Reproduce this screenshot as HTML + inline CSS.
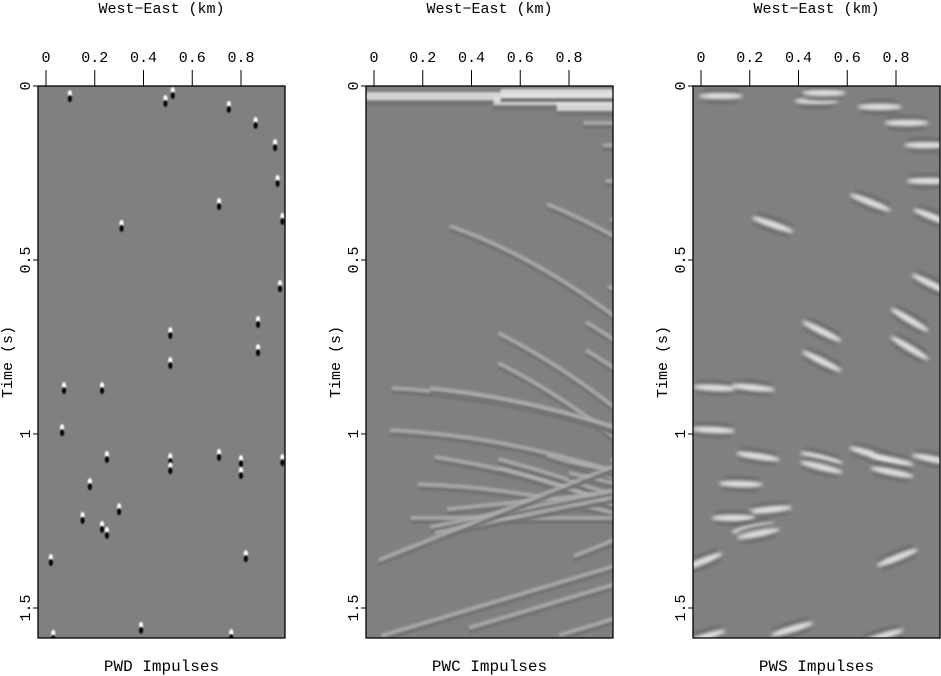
<!DOCTYPE html>
<html><head><meta charset="utf-8"><style>
html,body{margin:0;padding:0;background:#fff;}
svg{display:block;font-family:"Liberation Mono",monospace;}
</style></head><body>
<svg id="fig" width="941" height="676" viewBox="0 0 941 676" xmlns="http://www.w3.org/2000/svg">
<defs>
<filter id="blur1" x="-50%" y="-50%" width="200%" height="200%"><feGaussianBlur stdDeviation="1.8"/></filter>
<filter id="blur2" x="-50%" y="-50%" width="200%" height="200%"><feGaussianBlur stdDeviation="0.7"/></filter>
<filter id="blur3" filterUnits="userSpaceOnUse" x="0" y="0" width="941" height="676"><feGaussianBlur stdDeviation="1"/></filter>
</defs>
</svg>
<script>
// event data: x (km), t (s), local slope (time px per x px)
const evX=[0.098,0.49,0.52,0.75,0.86,0.94,0.95,0.71,0.97,0.31,0.96,0.87,0.51,0.87,0.51,0.074,0.23,0.066,0.25,0.51,0.71,0.80,0.97,0.51,0.80,0.18,0.30,0.15,0.23,0.25,0.02,0.82,0.39,0.76,0.03];
const evT=[0.029,0.043,0.020,0.060,0.106,0.170,0.273,0.339,0.382,0.402,0.575,0.678,0.710,0.759,0.796,0.868,0.868,0.989,1.066,1.072,1.060,1.078,1.075,1.098,1.112,1.144,1.216,1.241,1.267,1.284,1.362,1.351,1.557,1.578,1.580];
const evSlope=[0,0,0,0,0,0,0,0.4,0.4,0.35,0.5,0.6,0.5,0.6,0.5,0.05,0.1,0.05,0.15,0.25,0.3,0.2,0.2,0.25,0.2,0.03,-0.1,0,-0.2,-0.2,-0.4,-0.4,-0.3,-0.3,-0.3];
const xTicks=[0,0.2,0.4,0.6,0.8];
const xTickLabels=["0","0.2","0.4","0.6","0.8"];
const yTicks=[0,0.5,1,1.5];
const yTickLabels=["0","0.5","1","1.5"];
const panelTitles=["PWD Impulses","PWC Impulses","PWS Impulses"];
const panelLefts=[38,366,693];

const NS="http://www.w3.org/2000/svg";
const svg=document.getElementById('fig');
const PW=247, PT=86, PB=638;
const pxPerKm=243.75, pxPerS=348, x0off=8;
function mk(tag,attrs,parent){const e=document.createElementNS(NS,tag);for(const k in attrs)e.setAttribute(k,attrs[k]);(parent||svg).appendChild(e);return e;}

panelLefts.forEach((L,p)=>{
  const xs=v=>L+x0off+v*pxPerKm;
  const ys=v=>PT+v*pxPerS;
  const clip=mk('clipPath',{id:'clip'+p},svg.querySelector('defs'));
  mk('rect',{x:L,y:PT,width:PW,height:PB-PT},clip);
  const g=mk('g',{'clip-path':'url(#clip'+p+')'});
  
  
  mk('rect',{x:L,y:PT,width:PW,height:PB-PT,fill:'#808080'},g);
  evX.forEach((xv,i)=>{
    let cx=xs(xv); const cy=ys(evT[i]), s=evSlope[i];
    if(p===0){
      const e=mk('g',{},g);
      
      
      mk('ellipse',{cx:cx,cy:cy-2.5,rx:2,ry:3.5,fill:'#fff',filter:'url(#blur2)'},e);
      mk('ellipse',{cx:cx,cy:cy+2.5,rx:2,ry:3.5,fill:'#000',filter:'url(#blur2)'},e);
    } else if(p===1){
      const topBand=evT[i]<0.07;
      if(topBand) cx=Math.min(cx,L+(i===0?0:cx-L));
      const xe=L+PW+5, dx=xe-cx;
      const top=evT[i]<0.3;
      const curve=top?0:(s>0.3?0.0012*dx*dx:(s>0?0.0006*dx*dx:0));
      const ye=cy+s*dx+curve;
      const d='M'+cx+','+cy+' Q'+(cx+dx/2)+','+(cy+s*dx/2)+' '+xe+','+ye;
      const e=mk('g',{},g);
      
      
      mk('path',{d:d,transform:'translate(0,'+(topBand?7:4)+')',stroke:'#727272','stroke-width':4,fill:'none',filter:'url(#blur3)'},e);
      mk('path',{d:d,stroke:topBand?'#e4e4e4':'#adadad','stroke-width':topBand?8:4,fill:'none',opacity:0.85,filter:'url(#blur3)'},e);
    } else {
      const ang=Math.atan(s)*180/Math.PI;
      const e=mk('g',{transform:'translate('+cx+','+cy+') rotate('+ang+')'},g);
      
      
      mk('ellipse',{cx:-4,cy:-5,rx:20,ry:2.5,fill:'#686868',filter:'url(#blur1)'},e);
      mk('ellipse',{cx:-4,cy:5,rx:20,ry:2.5,fill:'#686868',filter:'url(#blur1)'},e);
      mk('ellipse',{cx:-4,cy:0,rx:22,ry:3.2,fill:'#e0e0e0',filter:'url(#blur1)'},e);
    }
  });
  const fr=mk('rect',{x:L,y:PT,width:PW,height:PB-PT,fill:'none',stroke:'#000','stroke-width':1.3});
  
  
  xTicks.forEach((v,i)=>{
    mk('line',{x1:xs(v),x2:xs(v),y1:70,y2:PT,stroke:'#000','stroke-width':1});
    const t=mk('text',{x:xs(v),y:62,'text-anchor':'middle','font-size':15});
    t.textContent=xTickLabels[i];
    
    
  });
  yTicks.forEach((v,i)=>{
    mk('line',{x1:L-5,x2:L,y1:ys(v),y2:ys(v),stroke:'#000','stroke-width':1});
    const t=mk('text',{x:0,y:0,'text-anchor':'middle','font-size':15,transform:'translate('+(L-8)+','+ys(v)+') rotate(-90)'});
    t.textContent=yTickLabels[i];
    
    
  });
  const xt=mk('text',{x:L+PW/2,y:13,'text-anchor':'middle','font-size':15});
  xt.textContent='West\u2212East (km)';
  
  
  const yt=mk('text',{x:0,y:0,'text-anchor':'middle','font-size':15,transform:'translate('+(L-26)+',362) rotate(-90)'});
  yt.textContent='Time (s)';
  
  
  const pt=mk('text',{x:L+PW/2,y:671,'text-anchor':'middle','font-size':16});
  pt.textContent=panelTitles[p];
  
  
});
</script>
</body></html>
